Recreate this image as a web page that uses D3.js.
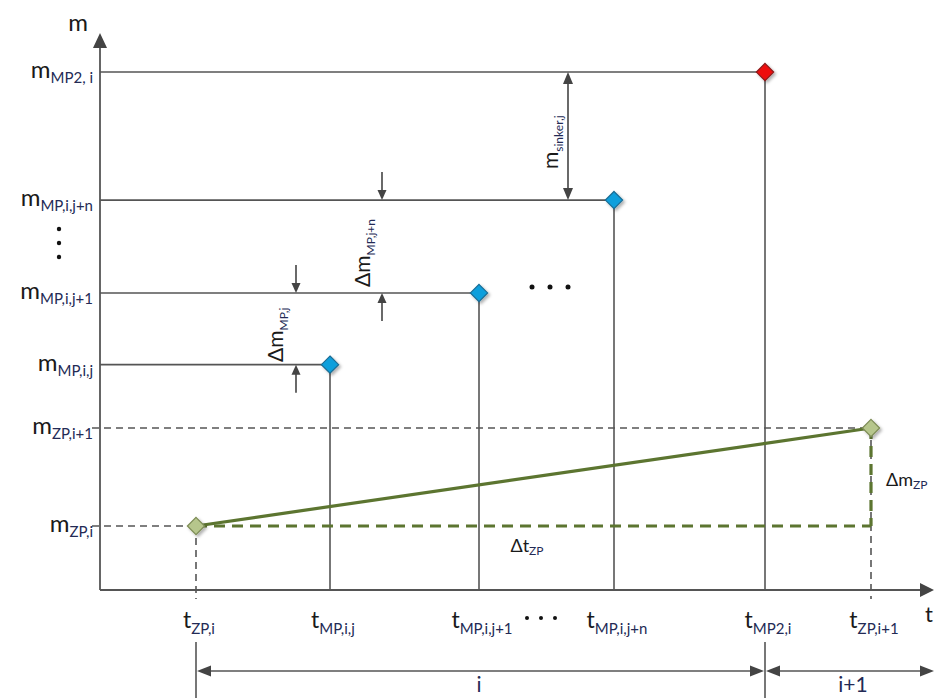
<!DOCTYPE html>
<html><head><meta charset="utf-8">
<script src="https://cdn.jsdelivr.net/npm/d3@7/dist/d3.min.js"></script>
<style>html,body{margin:0;padding:0;background:#fff;}svg{display:block;}</style>
</head><body>
<svg id="c" width="935" height="698"></svg>
<script>
// ---- data ----
const mTickNames  = ["ZP,i", "ZP,i+1", "MP,i,j", "MP,i,j+1", "MP,i,j+n", "MP2, i"];
const mTickValues = [1.00, 2.53, 3.52, 4.64, 6.09, 8.09];
const tTickNames  = ["ZP,i", "MP,i,j", "MP,i,j+1", "MP,i,j+n", "MP2,i", "ZP,i+1"];
const tTickValues = [0.96, 2.30, 3.79, 5.14, 6.65, 7.71];
const mpT = [2.30, 3.79, 5.14];          // MP sample times
const mpM = [3.52, 4.64, 6.09];          // MP masses
const mp2T = [6.65], mp2M = [8.09];      // MP2 point
const zpT = [0.96, 7.71], zpM = [1.00, 2.53]; // zero-point line
const periodNames = ["i", "i+1"];
const periodBounds = [0.96, 6.65, 8.35];

// ---- scales ----
const x = d3.scaleLinear().domain([0, 8.35]).range([100, 935]);
const y = d3.scaleLinear().domain([0, 8.7]).range([590, 33]);

const svg = d3.select("#c");
const FONT = "Lato, 'Open Sans', sans-serif";
const GRAY = "#555", MAIN = "#1a1a1a", SUBC = "#232a55";

const defs = svg.append("defs");
const f = defs.append("filter").attr("id","sh").attr("x","-50%").attr("y","-50%").attr("width","200%").attr("height","200%");
f.append("feDropShadow").attr("dx",2).attr("dy",2).attr("stdDeviation",1.5).attr("flood-color","#000").attr("flood-opacity",0.3);

function arrowHead(g, tipX, tipY, dir, len, half) {
  let p;
  if (dir === "up") p = [[tipX,tipY],[tipX-half,tipY+len],[tipX+half,tipY+len]];
  if (dir === "down") p = [[tipX,tipY],[tipX-half,tipY-len],[tipX+half,tipY-len]];
  if (dir === "left") p = [[tipX,tipY],[tipX+len,tipY-half],[tipX+len,tipY+half]];
  if (dir === "right") p = [[tipX,tipY],[tipX-len,tipY-half],[tipX-len,tipY+half]];
  g.append("path").attr("d", "M" + p.map(d=>d.join(",")).join("L") + "Z").attr("fill", "#444");
}

function label(g, px, py, main, sub, o) {
  o = Object.assign({anchor:"start", ms:24, ss:15, dy:5, rot:0}, o || {});
  const t = g.append("text").attr("x", px).attr("y", py)
    .attr("text-anchor", o.anchor).attr("font-family", FONT);
  if (o.rot) t.attr("transform", `rotate(${o.rot},${px},${py})`);
  t.append("tspan").attr("font-size", o.ms).attr("fill", MAIN).text(main);
  t.append("tspan").attr("font-size", o.ss).attr("fill", SUBC).attr("dy", o.dy).text(sub);
  return t;
}

// ---- axes ----
const axG = svg.append("g");
axG.append("g").attr("transform", `translate(${x(0)},0)`)
  .call(d3.axisLeft(y).tickValues([]).tickSizeOuter(0))
  .call(g => g.select(".domain").attr("stroke", GRAY).attr("stroke-width", 1.8).attr("d", `M0,${y(0)}V${y(8.5)}`));
axG.append("g").attr("transform", `translate(0,${y(0)})`)
  .call(d3.axisBottom(x).tickValues([]).tickSizeOuter(0))
  .call(g => g.select(".domain").attr("stroke", GRAY).attr("stroke-width", 1.8).attr("d", `M${x(0)},0H${x(8.3)}`));
arrowHead(axG, x(0), y(8.7), "up", 15, 7);
arrowHead(axG, 934, y(0), "right", 14, 7);
svg.append("text").attr("x", 78).attr("y", 31).attr("text-anchor","middle")
  .attr("font-family", FONT).attr("font-size", 24).attr("fill", MAIN).text("m");
svg.append("text").attr("x", 925).attr("y", 622)
  .attr("font-family", FONT).attr("font-size", 22).attr("fill", MAIN).text("t");

// ---- reference lines ----
const lines = svg.append("g").attr("fill","none");
const solidT = mpT.concat(mp2T), solidM = mpM.concat(mp2M);
solidT.forEach((t,k) => {
  lines.append("line").attr("x1", x(0)).attr("x2", x(t)).attr("y1", y(solidM[k])).attr("y2", y(solidM[k]))
    .attr("stroke", GRAY).attr("stroke-width", 1.6);
  lines.append("line").attr("x1", x(t)).attr("x2", x(t)).attr("y1", y(solidM[k])).attr("y2", y(0))
    .attr("stroke", GRAY).attr("stroke-width", 1.6);
});
zpT.forEach((t,k) => {
  lines.append("line").attr("x1", 92).attr("x2", x(t)).attr("y1", y(zpM[k])).attr("y2", y(zpM[k]))
    .attr("stroke", GRAY).attr("stroke-width", 1.6).attr("stroke-dasharray", "7,5");
  lines.append("line").attr("x1", x(t)).attr("x2", x(t)).attr("y1", y(zpM[k])).attr("y2", y(0) + 9)
    .attr("stroke", GRAY).attr("stroke-width", 1.6).attr("stroke-dasharray", "7,5");
});

const GREEN = "#5c7530";
lines.append("line").attr("x1", x(zpT[0])).attr("x2", x(zpT[1])).attr("y1", y(zpM[0])).attr("y2", y(zpM[0]))
  .attr("stroke", GREEN).attr("stroke-width", 3.2).attr("stroke-dasharray", "11,7");
lines.append("line").attr("x1", x(zpT[1])).attr("x2", x(zpT[1])).attr("y1", y(zpM[1])).attr("y2", y(zpM[0]))
  .attr("stroke", GREEN).attr("stroke-width", 3.2).attr("stroke-dasharray", "11,7");
svg.append("path").datum(zpT.map((t,k)=>[t, zpM[k]]))
  .attr("d", d3.line().x(d=>x(d[0])).y(d=>y(d[1])))
  .attr("fill","none").attr("stroke", GREEN).attr("stroke-width", 3.2);

// ---- diamonds ----
const sym = d3.symbol().type(d3.symbolDiamond2).size(190);
function diamonds(ts, ms, fill, stroke) {
  svg.append("g").selectAll("path").data(ts.map((t,k)=>[t, ms[k]])).join("path")
    .attr("d", sym).attr("transform", d => `translate(${x(d[0])},${y(d[1])})`)
    .attr("fill", fill).attr("stroke", stroke).attr("stroke-width", 1.2).attr("filter", "url(#sh)");
}
diamonds(mpT, mpM, "#0f9fdc", "#1a6d95");
diamonds(mp2T, mp2M, "#ee1111", "#8a1a1a");
diamonds(zpT, zpM, "#b6c68c", "#7d8c56");

// ---- delta arrows ----
const ar = svg.append("g").attr("stroke", "#444").attr("stroke-width", 1.6);
function deltaPair(px, mTop, mBot) {
  const yt = y(mTop), yb = y(mBot);
  ar.append("line").attr("x1", px).attr("x2", px).attr("y1", yt - 28).attr("y2", yt - 8);
  arrowHead(svg, px, yt, "down", 10, 4.5);
  ar.append("line").attr("x1", px).attr("x2", px).attr("y1", yb + 28).attr("y2", yb + 8);
  arrowHead(svg, px, yb, "up", 10, 4.5);
}
deltaPair(296, mpM[1], mpM[0]);
deltaPair(382, mpM[2], mpM[1]);
ar.append("line").attr("x1", 568).attr("x2", 568).attr("y1", y(mp2M[0]) + 10).attr("y2", y(mpM[2]) - 10);
arrowHead(svg, 568, y(mp2M[0]), "up", 12, 5);
arrowHead(svg, 568, y(mpM[2]), "down", 12, 5);

const lg = svg.append("g");
label(lg, 283, 362, "\u0394m", "MP,j", {rot:-90, ms:21, ss:12, dy:5});
label(lg, 370, 287, "\u0394m", "MP,j+n", {rot:-90, ms:21, ss:12, dy:5});
label(lg, 558, 169, "m", "sinker,j", {rot:-90, ms:21, ss:12, dy:5});
label(lg, 527, 552, "\u0394t", "ZP", {anchor:"middle", ms:18, ss:12, dy:3});
label(lg, 886, 486, "\u0394m", "ZP", {ms:18, ss:12, dy:3});

// ---- tick labels ----
const yl = svg.append("g");
mTickNames.forEach((n,k) => label(yl, 93, y(mTickValues[k]) + 6, "m", n, {anchor:"end"}));
const xl = svg.append("g");
tTickNames.forEach((n,k) => label(xl, x(tTickValues[k]) + 3, 628, "t", n, {anchor:"middle", ms:23, dy:6}));

svg.append("g").selectAll("circle").data([229, 243, 257]).join("circle")
  .attr("cx", 59).attr("cy", d=>d).attr("r", 2.2).attr("fill", "#111");
svg.append("g").selectAll("circle").data([532, 550, 568]).join("circle")
  .attr("cx", d=>d).attr("cy", 287).attr("r", 2.5).attr("fill", "#111");
svg.append("g").selectAll("circle").data([527, 541, 555]).join("circle")
  .attr("cx", d=>d).attr("cy", 618).attr("r", 2).attr("fill", "#111");

// ---- period brackets ----
const br = svg.append("g");
const BY = 671;
[periodBounds[0], periodBounds[1]].forEach(t => {
  br.append("line").attr("x1", x(t)).attr("x2", x(t)).attr("y1", 642).attr("y2", 698)
    .attr("stroke", GRAY).attr("stroke-width", 1.6);
});
periodNames.forEach((n,k) => {
  const a = x(periodBounds[k]) + 1, b = Math.min(x(periodBounds[k+1]) - 1, 934);
  br.append("line").attr("x1", a + 8).attr("x2", b - 8).attr("y1", BY).attr("y2", BY)
    .attr("stroke", GRAY).attr("stroke-width", 1.6);
  arrowHead(br, a, BY, "left", 14, 5.5);
  arrowHead(br, b, BY, "right", 14, 5.5);
  br.append("text").attr("x", k === 0 ? 479 : 853).attr("y", 692).attr("text-anchor","middle")
    .attr("font-family", FONT).attr("font-size", 21).attr("fill", SUBC).text(n);
});
</script>
</body></html>
